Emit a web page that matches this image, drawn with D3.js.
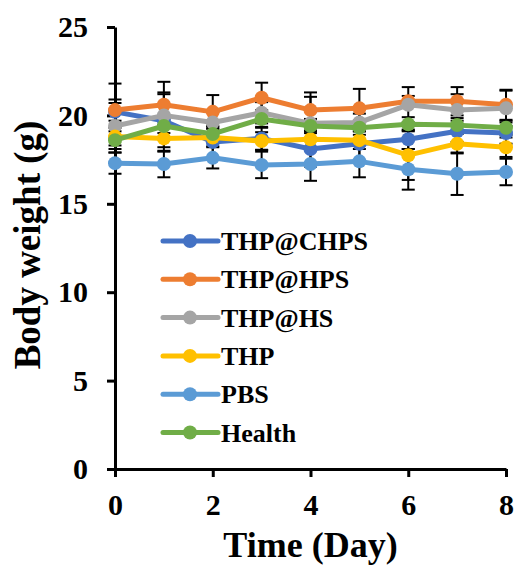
<!DOCTYPE html>
<html>
<head>
<meta charset="utf-8">
<script src="https://cdn.jsdelivr.net/npm/d3@7"></script>
<style>
  html, body { margin: 0; padding: 0; background: #fff; }
  svg { display: block; }
  text { font-family: "Liberation Serif", "Times New Roman", serif; font-weight: bold; fill: #000; }
</style>
</head>
<body>
<svg id="chart" width="519" height="572"></svg>
<script>
// ---- data ----
const days = [0, 1, 2, 3, 4, 5, 6, 7, 8];
const seriesNames = ["THP@CHPS", "THP@HPS", "THP@HS", "THP", "PBS", "Health"];
const seriesColors = ["#4472C4", "#ED7D31", "#A5A5A5", "#FFC000", "#5B9BD5", "#70AD47"];
const chpsMean = [20.2, 19.7, 18.5, 18.7, 18.1, 18.4, 18.65, 19.1, 19.0];
const chpsSD   = [0.5, 1.5, 0.9, 0.65, 1.0, 1.0, 0.55, 0.6, 0.6];
const hpsMean  = [20.3, 20.6, 20.2, 21.0, 20.3, 20.4, 20.8, 20.8, 20.6];
const hpsSD    = [1.5, 1.3, 0.95, 0.85, 1.0, 1.1, 0.3, 0.8, 0.85];
const hsMean   = [19.4, 20.0, 19.6, 20.15, 19.55, 19.6, 20.6, 20.3, 20.4];
const hsSD     = [1.5, 1.3, 0.6, 0.6, 1.5, 0.5, 1.0, 0.9, 1.0];
const thpMean  = [18.8, 18.7, 18.75, 18.55, 18.65, 18.6, 17.75, 18.4, 18.2];
const thpSD    = [0.5, 0.75, 0.5, 0.5, 0.5, 0.5, 1.4, 0.55, 0.55];
const pbsMean  = [17.3, 17.25, 17.6, 17.2, 17.25, 17.4, 16.95, 16.7, 16.8];
const pbsSD    = [0.6, 0.75, 0.6, 0.75, 0.95, 0.9, 1.15, 1.2, 0.75];
const healthMean = [18.6, 19.4, 18.95, 19.8, 19.4, 19.3, 19.5, 19.45, 19.3];
const healthSD   = [0.5, 0.4, 0.4, 0.5, 0.4, 0.4, 0.4, 0.4, 0.4];
const xTicks = [0, 2, 4, 6, 8];
const yTicks = [0, 5, 10, 15, 20, 25];
const xTitle = "Time (Day)";
const yTitle = "Body weight (g)";

const means = [chpsMean, hpsMean, hsMean, thpMean, pbsMean, healthMean];
const sds = [chpsSD, hpsSD, hsSD, thpSD, pbsSD, healthSD];
const series = seriesNames.map((name, i) => ({
  name, color: seriesColors[i],
  points: days.map((d, j) => ({ x: d, y: means[i][j], sd: sds[i][j] }))
}));

// ---- layout ----
const svg = d3.select("#chart");
const x = d3.scaleLinear().domain([0, 8]).range([115, 506]);
const y = d3.scaleLinear().domain([0, 25]).range([469, 27]);

// error bars (behind)
const eb = svg.append("g");
series.forEach(s => {
  s.points.forEach(p => {
    const cx = x(p.x);
    eb.append("line").attr("x1", cx).attr("x2", cx)
      .attr("y1", y(p.y - p.sd)).attr("y2", y(p.y + p.sd))
      .attr("stroke", "#000").attr("stroke-width", 2);
    [p.y - p.sd, p.y + p.sd].forEach(v => {
      eb.append("line").attr("x1", cx - 6.5).attr("x2", cx + 6.5)
        .attr("y1", y(v)).attr("y2", y(v))
        .attr("stroke", "#000").attr("stroke-width", 2);
    });
  });
});

// axes
const yAxis = d3.axisLeft(y).tickValues(yTicks).tickSize(8).tickPadding(19).tickSizeOuter(0);
const gy = svg.append("g").attr("transform", "translate(115,0)").call(yAxis);
const xAxis = d3.axisBottom(x).tickValues(xTicks).tickSize(8).tickPadding(17).tickSizeOuter(0);
const gx = svg.append("g").attr("transform", "translate(0,469)").call(xAxis);
[gx, gy].forEach(g => {
  g.select(".domain").attr("stroke", "#000").attr("stroke-width", 3);
  g.selectAll(".tick line").attr("stroke", "#000").attr("stroke-width", 3);
  g.selectAll(".tick text").style("font-size", "30px")
    .style("font-family", '"Liberation Serif", serif').style("font-weight", "bold").attr("fill", "#000");
});

// lines and markers
const line = d3.line().x(d => x(d.x)).y(d => y(d.y));
series.forEach(s => {
  const g = svg.append("g");
  g.append("path").datum(s.points).attr("d", line)
    .attr("fill", "none").attr("stroke", s.color).attr("stroke-width", 5)
    .attr("stroke-linejoin", "round");
  g.selectAll("circle").data(s.points).join("circle")
    .attr("cx", d => x(d.x)).attr("cy", d => y(d.y)).attr("r", 7)
    .attr("fill", s.color);
});

// legend
const legY0 = 241, legStep = 38.3;
series.forEach((s, i) => {
  const ly = legY0 + i * legStep;
  const g = svg.append("g");
  g.append("line").attr("x1", 163).attr("x2", 218).attr("y1", ly).attr("y2", ly)
    .attr("stroke", s.color).attr("stroke-width", 5).attr("stroke-linecap", "round");
  g.append("circle").attr("cx", 190).attr("cy", ly).attr("r", 7).attr("fill", s.color);
  g.append("text").attr("x", 221).attr("y", ly + 9).style("font-size", "26px").text(s.name);
});

// titles
svg.append("text").attr("x", 310.5).attr("y", 557).attr("text-anchor", "middle")
  .style("font-size", "36px").text(xTitle);
svg.append("text").attr("transform", "translate(40,245) rotate(-90)").attr("text-anchor", "middle")
  .style("font-size", "37px").text(yTitle);
</script>
</body>
</html>
